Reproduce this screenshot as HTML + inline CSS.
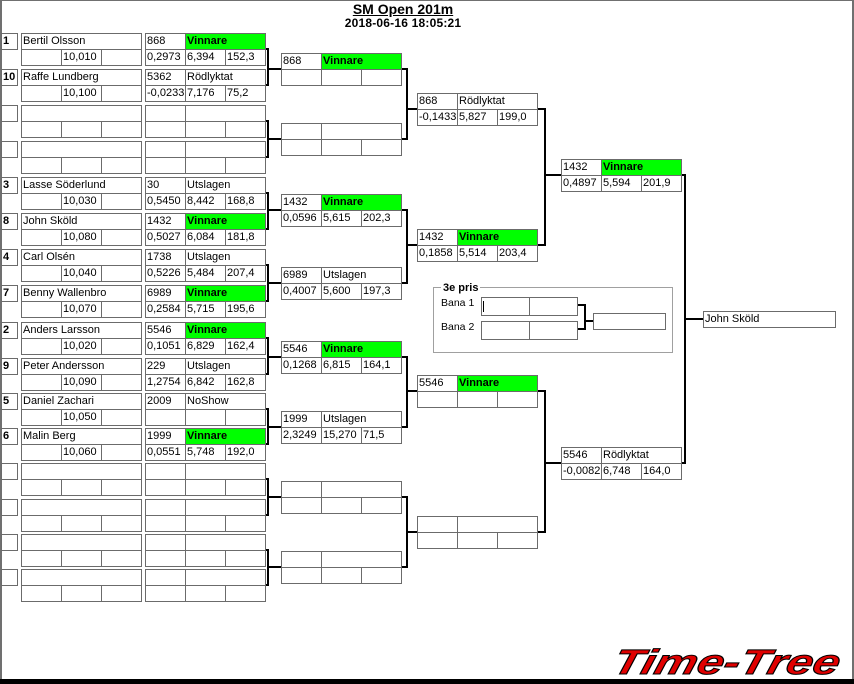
<!DOCTYPE html>
<html><head><meta charset="utf-8">
<style>
html,body{margin:0;padding:0;}
body{width:854px;height:684px;position:relative;overflow:hidden;background:#fff;font-family:"Liberation Sans",sans-serif;color:#000;}
.b{position:absolute;box-sizing:border-box;border:1px solid #6b6b6b;height:17px;padding-left:1px;font:11px/15px "Liberation Sans",sans-serif;white-space:nowrap;overflow:hidden;background:#fff;}
.w1{width:41px}.w2{width:81px}.w3{width:121px}
.s{width:17px;font-weight:bold;}
.g{background:#00ff00;font-weight:bold;}
.k{position:absolute;background:#000;}
.f{position:absolute;background:#707070;}
</style></head><body>
<div class="f" style="left:0;top:0;width:854px;height:1px"></div>
<div class="f" style="left:0;top:0;width:2px;height:680px"></div>
<div class="f" style="left:852px;top:0;width:2px;height:680px"></div>
<div style="position:absolute;left:0;top:679px;width:854px;height:5px;background:#000"></div>

<div style="position:absolute;left:303px;top:2px;width:200px;text-align:center;font:bold 14px/14px 'Liberation Sans',sans-serif;"><span style="text-decoration:underline">SM Open 201m</span></div>
<div style="position:absolute;left:303px;top:16px;width:200px;text-align:center;font:bold 12px/14px 'Liberation Sans',sans-serif;letter-spacing:0.2px">2018-06-16 18:05:21</div>

<!-- Round 1 entries -->
<div class="b s" style="left:1px;top:33px">1</div>
<div class="b w3" style="left:21px;top:33px">Bertil Olsson</div>
<div class="b w1" style="left:21px;top:49px"></div><div class="b w1" style="left:61px;top:49px">10,010</div><div class="b w1" style="left:101px;top:49px"></div>
<div class="b w1" style="left:145px;top:33px">868</div><div class="b w2 g" style="left:185px;top:33px">Vinnare</div>
<div class="b w1" style="left:145px;top:49px">0,2973</div><div class="b w1" style="left:185px;top:49px">6,394</div><div class="b w1" style="left:225px;top:49px">152,3</div>

<div class="b s" style="left:1px;top:69px">10</div>
<div class="b w3" style="left:21px;top:69px">Raffe Lundberg</div>
<div class="b w1" style="left:21px;top:85px"></div><div class="b w1" style="left:61px;top:85px">10,100</div><div class="b w1" style="left:101px;top:85px"></div>
<div class="b w1" style="left:145px;top:69px">5362</div><div class="b w2" style="left:185px;top:69px">Rödlyktat</div>
<div class="b w1" style="left:145px;top:85px">-0,0233</div><div class="b w1" style="left:185px;top:85px">7,176</div><div class="b w1" style="left:225px;top:85px">75,2</div>

<div class="b s" style="left:1px;top:105px"></div>
<div class="b w3" style="left:21px;top:105px"></div>
<div class="b w1" style="left:21px;top:121px"></div><div class="b w1" style="left:61px;top:121px"></div><div class="b w1" style="left:101px;top:121px"></div>
<div class="b w1" style="left:145px;top:105px"></div><div class="b w2" style="left:185px;top:105px"></div>
<div class="b w1" style="left:145px;top:121px"></div><div class="b w1" style="left:185px;top:121px"></div><div class="b w1" style="left:225px;top:121px"></div>

<div class="b s" style="left:1px;top:141px"></div>
<div class="b w3" style="left:21px;top:141px"></div>
<div class="b w1" style="left:21px;top:157px"></div><div class="b w1" style="left:61px;top:157px"></div><div class="b w1" style="left:101px;top:157px"></div>
<div class="b w1" style="left:145px;top:141px"></div><div class="b w2" style="left:185px;top:141px"></div>
<div class="b w1" style="left:145px;top:157px"></div><div class="b w1" style="left:185px;top:157px"></div><div class="b w1" style="left:225px;top:157px"></div>

<div class="b s" style="left:1px;top:177px">3</div>
<div class="b w3" style="left:21px;top:177px">Lasse Söderlund</div>
<div class="b w1" style="left:21px;top:193px"></div><div class="b w1" style="left:61px;top:193px">10,030</div><div class="b w1" style="left:101px;top:193px"></div>
<div class="b w1" style="left:145px;top:177px">30</div><div class="b w2" style="left:185px;top:177px">Utslagen</div>
<div class="b w1" style="left:145px;top:193px">0,5450</div><div class="b w1" style="left:185px;top:193px">8,442</div><div class="b w1" style="left:225px;top:193px">168,8</div>

<div class="b s" style="left:1px;top:213px">8</div>
<div class="b w3" style="left:21px;top:213px">John Sköld</div>
<div class="b w1" style="left:21px;top:229px"></div><div class="b w1" style="left:61px;top:229px">10,080</div><div class="b w1" style="left:101px;top:229px"></div>
<div class="b w1" style="left:145px;top:213px">1432</div><div class="b w2 g" style="left:185px;top:213px">Vinnare</div>
<div class="b w1" style="left:145px;top:229px">0,5027</div><div class="b w1" style="left:185px;top:229px">6,084</div><div class="b w1" style="left:225px;top:229px">181,8</div>

<div class="b s" style="left:1px;top:249px">4</div>
<div class="b w3" style="left:21px;top:249px">Carl Olsén</div>
<div class="b w1" style="left:21px;top:265px"></div><div class="b w1" style="left:61px;top:265px">10,040</div><div class="b w1" style="left:101px;top:265px"></div>
<div class="b w1" style="left:145px;top:249px">1738</div><div class="b w2" style="left:185px;top:249px">Utslagen</div>
<div class="b w1" style="left:145px;top:265px">0,5226</div><div class="b w1" style="left:185px;top:265px">5,484</div><div class="b w1" style="left:225px;top:265px">207,4</div>

<div class="b s" style="left:1px;top:285px">7</div>
<div class="b w3" style="left:21px;top:285px">Benny Wallenbro</div>
<div class="b w1" style="left:21px;top:301px"></div><div class="b w1" style="left:61px;top:301px">10,070</div><div class="b w1" style="left:101px;top:301px"></div>
<div class="b w1" style="left:145px;top:285px">6989</div><div class="b w2 g" style="left:185px;top:285px">Vinnare</div>
<div class="b w1" style="left:145px;top:301px">0,2584</div><div class="b w1" style="left:185px;top:301px">5,715</div><div class="b w1" style="left:225px;top:301px">195,6</div>

<div class="b s" style="left:1px;top:322px">2</div>
<div class="b w3" style="left:21px;top:322px">Anders Larsson</div>
<div class="b w1" style="left:21px;top:338px"></div><div class="b w1" style="left:61px;top:338px">10,020</div><div class="b w1" style="left:101px;top:338px"></div>
<div class="b w1" style="left:145px;top:322px">5546</div><div class="b w2 g" style="left:185px;top:322px">Vinnare</div>
<div class="b w1" style="left:145px;top:338px">0,1051</div><div class="b w1" style="left:185px;top:338px">6,829</div><div class="b w1" style="left:225px;top:338px">162,4</div>

<div class="b s" style="left:1px;top:358px">9</div>
<div class="b w3" style="left:21px;top:358px">Peter Andersson</div>
<div class="b w1" style="left:21px;top:374px"></div><div class="b w1" style="left:61px;top:374px">10,090</div><div class="b w1" style="left:101px;top:374px"></div>
<div class="b w1" style="left:145px;top:358px">229</div><div class="b w2" style="left:185px;top:358px">Utslagen</div>
<div class="b w1" style="left:145px;top:374px">1,2754</div><div class="b w1" style="left:185px;top:374px">6,842</div><div class="b w1" style="left:225px;top:374px">162,8</div>

<div class="b s" style="left:1px;top:393px">5</div>
<div class="b w3" style="left:21px;top:393px">Daniel Zachari</div>
<div class="b w1" style="left:21px;top:409px"></div><div class="b w1" style="left:61px;top:409px">10,050</div><div class="b w1" style="left:101px;top:409px"></div>
<div class="b w1" style="left:145px;top:393px">2009</div><div class="b w2" style="left:185px;top:393px">NoShow</div>
<div class="b w1" style="left:145px;top:409px"></div><div class="b w1" style="left:185px;top:409px"></div><div class="b w1" style="left:225px;top:409px"></div>

<div class="b s" style="left:1px;top:428px">6</div>
<div class="b w3" style="left:21px;top:428px">Malin Berg</div>
<div class="b w1" style="left:21px;top:444px"></div><div class="b w1" style="left:61px;top:444px">10,060</div><div class="b w1" style="left:101px;top:444px"></div>
<div class="b w1" style="left:145px;top:428px">1999</div><div class="b w2 g" style="left:185px;top:428px">Vinnare</div>
<div class="b w1" style="left:145px;top:444px">0,0551</div><div class="b w1" style="left:185px;top:444px">5,748</div><div class="b w1" style="left:225px;top:444px">192,0</div>

<div class="b s" style="left:1px;top:463px"></div>
<div class="b w3" style="left:21px;top:463px"></div>
<div class="b w1" style="left:21px;top:479px"></div><div class="b w1" style="left:61px;top:479px"></div><div class="b w1" style="left:101px;top:479px"></div>
<div class="b w1" style="left:145px;top:463px"></div><div class="b w2" style="left:185px;top:463px"></div>
<div class="b w1" style="left:145px;top:479px"></div><div class="b w1" style="left:185px;top:479px"></div><div class="b w1" style="left:225px;top:479px"></div>

<div class="b s" style="left:1px;top:499px"></div>
<div class="b w3" style="left:21px;top:499px"></div>
<div class="b w1" style="left:21px;top:515px"></div><div class="b w1" style="left:61px;top:515px"></div><div class="b w1" style="left:101px;top:515px"></div>
<div class="b w1" style="left:145px;top:499px"></div><div class="b w2" style="left:185px;top:499px"></div>
<div class="b w1" style="left:145px;top:515px"></div><div class="b w1" style="left:185px;top:515px"></div><div class="b w1" style="left:225px;top:515px"></div>

<div class="b s" style="left:1px;top:534px"></div>
<div class="b w3" style="left:21px;top:534px"></div>
<div class="b w1" style="left:21px;top:550px"></div><div class="b w1" style="left:61px;top:550px"></div><div class="b w1" style="left:101px;top:550px"></div>
<div class="b w1" style="left:145px;top:534px"></div><div class="b w2" style="left:185px;top:534px"></div>
<div class="b w1" style="left:145px;top:550px"></div><div class="b w1" style="left:185px;top:550px"></div><div class="b w1" style="left:225px;top:550px"></div>

<div class="b s" style="left:1px;top:569px"></div>
<div class="b w3" style="left:21px;top:569px"></div>
<div class="b w1" style="left:21px;top:585px"></div><div class="b w1" style="left:61px;top:585px"></div><div class="b w1" style="left:101px;top:585px"></div>
<div class="b w1" style="left:145px;top:569px"></div><div class="b w2" style="left:185px;top:569px"></div>
<div class="b w1" style="left:145px;top:585px"></div><div class="b w1" style="left:185px;top:585px"></div><div class="b w1" style="left:225px;top:585px"></div>

<!-- R1 brackets -->
<div class="k" style="left:267px;top:48px;width:2px;height:38px"></div><div class="k" style="left:266px;top:48px;width:2px;height:2px"></div><div class="k" style="left:266px;top:84px;width:2px;height:2px"></div><div class="k" style="left:267px;top:68px;width:14px;height:2px"></div>
<div class="k" style="left:267px;top:120px;width:2px;height:38px"></div><div class="k" style="left:266px;top:120px;width:2px;height:2px"></div><div class="k" style="left:266px;top:156px;width:2px;height:2px"></div><div class="k" style="left:267px;top:138px;width:14px;height:2px"></div>
<div class="k" style="left:267px;top:192px;width:2px;height:38px"></div><div class="k" style="left:266px;top:192px;width:2px;height:2px"></div><div class="k" style="left:266px;top:228px;width:2px;height:2px"></div><div class="k" style="left:267px;top:209px;width:14px;height:2px"></div>
<div class="k" style="left:267px;top:264px;width:2px;height:38px"></div><div class="k" style="left:266px;top:264px;width:2px;height:2px"></div><div class="k" style="left:266px;top:300px;width:2px;height:2px"></div><div class="k" style="left:267px;top:282px;width:14px;height:2px"></div>
<div class="k" style="left:267px;top:337px;width:2px;height:38px"></div><div class="k" style="left:266px;top:337px;width:2px;height:2px"></div><div class="k" style="left:266px;top:373px;width:2px;height:2px"></div><div class="k" style="left:267px;top:356px;width:14px;height:2px"></div>
<div class="k" style="left:267px;top:408px;width:2px;height:37px"></div><div class="k" style="left:266px;top:408px;width:2px;height:2px"></div><div class="k" style="left:266px;top:443px;width:2px;height:2px"></div><div class="k" style="left:267px;top:426px;width:14px;height:2px"></div>
<div class="k" style="left:267px;top:478px;width:2px;height:38px"></div><div class="k" style="left:266px;top:478px;width:2px;height:2px"></div><div class="k" style="left:266px;top:514px;width:2px;height:2px"></div><div class="k" style="left:267px;top:496px;width:14px;height:2px"></div>
<div class="k" style="left:267px;top:549px;width:2px;height:37px"></div><div class="k" style="left:266px;top:549px;width:2px;height:2px"></div><div class="k" style="left:266px;top:584px;width:2px;height:2px"></div><div class="k" style="left:267px;top:566px;width:14px;height:2px"></div>

<!-- Round 2 -->
<div class="b w1" style="left:281px;top:53px">868</div><div class="b w2 g" style="left:321px;top:53px">Vinnare</div>
<div class="b w1" style="left:281px;top:69px"></div><div class="b w1" style="left:321px;top:69px"></div><div class="b w1" style="left:361px;top:69px"></div>

<div class="b w1" style="left:281px;top:123px"></div><div class="b w2" style="left:321px;top:123px"></div>
<div class="b w1" style="left:281px;top:139px"></div><div class="b w1" style="left:321px;top:139px"></div><div class="b w1" style="left:361px;top:139px"></div>

<div class="b w1" style="left:281px;top:194px">1432</div><div class="b w2 g" style="left:321px;top:194px">Vinnare</div>
<div class="b w1" style="left:281px;top:210px">0,0596</div><div class="b w1" style="left:321px;top:210px">5,615</div><div class="b w1" style="left:361px;top:210px">202,3</div>

<div class="b w1" style="left:281px;top:267px">6989</div><div class="b w2" style="left:321px;top:267px">Utslagen</div>
<div class="b w1" style="left:281px;top:283px">0,4007</div><div class="b w1" style="left:321px;top:283px">5,600</div><div class="b w1" style="left:361px;top:283px">197,3</div>

<div class="b w1" style="left:281px;top:341px">5546</div><div class="b w2 g" style="left:321px;top:341px">Vinnare</div>
<div class="b w1" style="left:281px;top:357px">0,1268</div><div class="b w1" style="left:321px;top:357px">6,815</div><div class="b w1" style="left:361px;top:357px">164,1</div>

<div class="b w1" style="left:281px;top:411px">1999</div><div class="b w2" style="left:321px;top:411px">Utslagen</div>
<div class="b w1" style="left:281px;top:427px">2,3249</div><div class="b w1" style="left:321px;top:427px">15,270</div><div class="b w1" style="left:361px;top:427px">71,5</div>

<div class="b w1" style="left:281px;top:481px"></div><div class="b w2" style="left:321px;top:481px"></div>
<div class="b w1" style="left:281px;top:497px"></div><div class="b w1" style="left:321px;top:497px"></div><div class="b w1" style="left:361px;top:497px"></div>

<div class="b w1" style="left:281px;top:551px"></div><div class="b w2" style="left:321px;top:551px"></div>
<div class="b w1" style="left:281px;top:567px"></div><div class="b w1" style="left:321px;top:567px"></div><div class="b w1" style="left:361px;top:567px"></div>

<!-- R2 brackets -->
<div class="k" style="left:406px;top:68px;width:2px;height:72px"></div><div class="k" style="left:402px;top:68px;width:5px;height:2px"></div><div class="k" style="left:402px;top:138px;width:5px;height:2px"></div><div class="k" style="left:406px;top:108px;width:11px;height:2px"></div>
<div class="k" style="left:406px;top:209px;width:2px;height:75px"></div><div class="k" style="left:402px;top:209px;width:5px;height:2px"></div><div class="k" style="left:402px;top:282px;width:5px;height:2px"></div><div class="k" style="left:406px;top:244px;width:11px;height:2px"></div>
<div class="k" style="left:406px;top:356px;width:2px;height:72px"></div><div class="k" style="left:402px;top:356px;width:5px;height:2px"></div><div class="k" style="left:402px;top:426px;width:5px;height:2px"></div><div class="k" style="left:406px;top:390px;width:11px;height:2px"></div>
<div class="k" style="left:406px;top:496px;width:2px;height:72px"></div><div class="k" style="left:402px;top:496px;width:5px;height:2px"></div><div class="k" style="left:402px;top:566px;width:5px;height:2px"></div><div class="k" style="left:406px;top:531px;width:11px;height:2px"></div>

<!-- Round 3 -->
<div class="b w1" style="left:417px;top:93px">868</div><div class="b w2" style="left:457px;top:93px">Rödlyktat</div>
<div class="b w1" style="left:417px;top:109px">-0,1433</div><div class="b w1" style="left:457px;top:109px">5,827</div><div class="b w1" style="left:497px;top:109px">199,0</div>

<div class="b w1" style="left:417px;top:229px">1432</div><div class="b w2 g" style="left:457px;top:229px">Vinnare</div>
<div class="b w1" style="left:417px;top:245px">0,1858</div><div class="b w1" style="left:457px;top:245px">5,514</div><div class="b w1" style="left:497px;top:245px">203,4</div>

<div class="b w1" style="left:417px;top:375px">5546</div><div class="b w2 g" style="left:457px;top:375px">Vinnare</div>
<div class="b w1" style="left:417px;top:391px"></div><div class="b w1" style="left:457px;top:391px"></div><div class="b w1" style="left:497px;top:391px"></div>

<div class="b w1" style="left:417px;top:516px"></div><div class="b w2" style="left:457px;top:516px"></div>
<div class="b w1" style="left:417px;top:532px"></div><div class="b w1" style="left:457px;top:532px"></div><div class="b w1" style="left:497px;top:532px"></div>

<!-- R3 brackets -->
<div class="k" style="left:544px;top:108px;width:2px;height:138px"></div><div class="k" style="left:538px;top:108px;width:7px;height:2px"></div><div class="k" style="left:538px;top:244px;width:7px;height:2px"></div><div class="k" style="left:544px;top:174px;width:17px;height:2px"></div>
<div class="k" style="left:544px;top:390px;width:2px;height:143px"></div><div class="k" style="left:538px;top:390px;width:7px;height:2px"></div><div class="k" style="left:538px;top:531px;width:7px;height:2px"></div><div class="k" style="left:544px;top:462px;width:17px;height:2px"></div>

<!-- Round 4 -->
<div class="b w1" style="left:561px;top:159px">1432</div><div class="b w2 g" style="left:601px;top:159px">Vinnare</div>
<div class="b w1" style="left:561px;top:175px">0,4897</div><div class="b w1" style="left:601px;top:175px">5,594</div><div class="b w1" style="left:641px;top:175px">201,9</div>

<div class="b w1" style="left:561px;top:447px">5546</div><div class="b w2" style="left:601px;top:447px">Rödlyktat</div>
<div class="b w1" style="left:561px;top:463px">-0,0082</div><div class="b w1" style="left:601px;top:463px">6,748</div><div class="b w1" style="left:641px;top:463px">164,0</div>

<!-- R4 bracket -->
<div class="k" style="left:684px;top:174px;width:2px;height:290px"></div><div class="k" style="left:682px;top:174px;width:3px;height:2px"></div><div class="k" style="left:682px;top:462px;width:3px;height:2px"></div><div class="k" style="left:684px;top:318px;width:19px;height:2px"></div>

<!-- Final -->
<div class="b" style="left:703px;top:311px;width:133px">John Sköld</div>

<!-- 3e pris -->
<div style="position:absolute;left:433px;top:287px;width:240px;height:66px;box-sizing:border-box;border:1px solid #a0a0a0"></div>
<div style="position:absolute;left:441px;top:282px;padding:0 2px;background:#fff;font:bold 11px/13px 'Liberation Sans',sans-serif">3e pris</div>
<div style="position:absolute;left:441px;top:297px;font:10.5px/13px 'Liberation Sans',sans-serif">Bana 1</div>
<div style="position:absolute;left:441px;top:321px;font:10.5px/13px 'Liberation Sans',sans-serif">Bana 2</div>
<div class="b" style="left:481px;top:297px;width:49px;height:19px"></div><div class="b" style="left:529px;top:297px;width:49px;height:19px"></div>
<div class="b" style="left:481px;top:321px;width:49px;height:19px"></div><div class="b" style="left:529px;top:321px;width:49px;height:19px"></div>
<div class="k" style="left:483px;top:301px;width:1px;height:11px"></div>
<div class="k" style="left:578px;top:304px;width:7px;height:2px"></div>
<div class="k" style="left:578px;top:328px;width:7px;height:2px"></div>
<div class="k" style="left:584px;top:304px;width:2px;height:26px"></div>
<div class="k" style="left:584px;top:320px;width:9px;height:2px"></div>
<div class="b" style="left:593px;top:313px;width:73px"></div>

<!-- Logo -->
<svg style="position:absolute;left:600px;top:640px" width="254" height="40" xmlns="http://www.w3.org/2000/svg">
<g transform="translate(11,34) skewX(-15)">
<text x="0" y="0" font-family="Liberation Sans, sans-serif" font-weight="bold" font-style="italic" font-size="35" textLength="226" lengthAdjust="spacingAndGlyphs" fill="#e00000" stroke="#000" stroke-width="1">Time-Tree</text>
</g>
</svg>
</body></html>
